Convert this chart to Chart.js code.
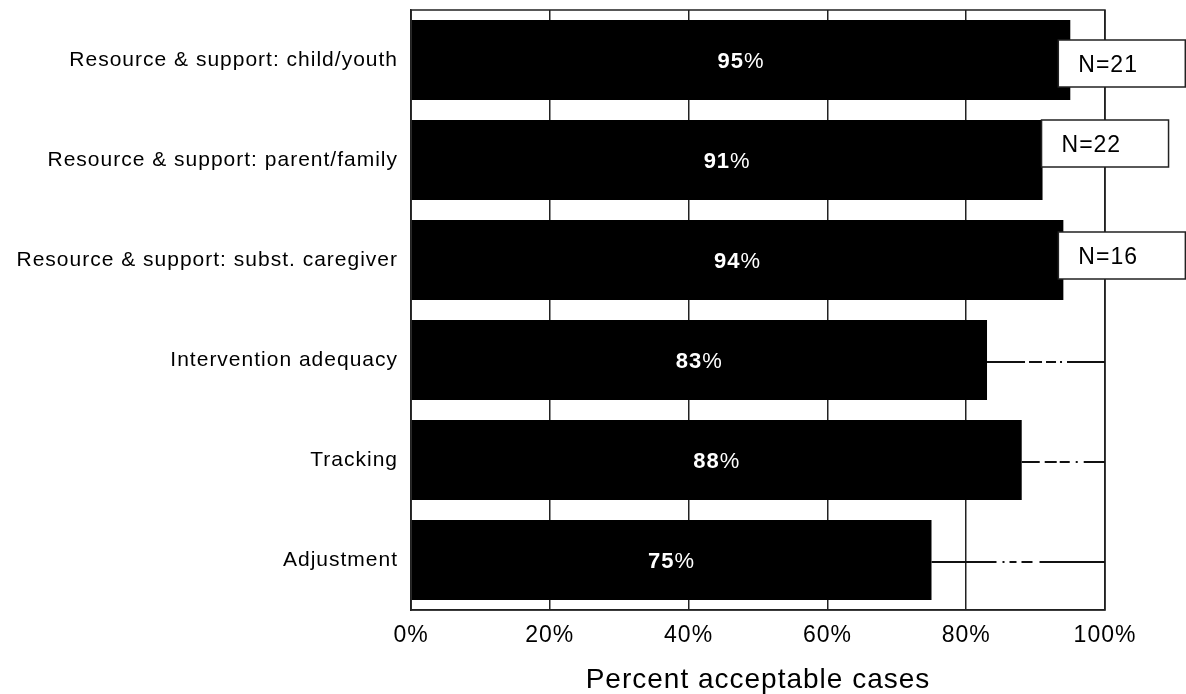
<!DOCTYPE html>
<html>
<head>
<meta charset="utf-8">
<script src="https://cdn.jsdelivr.net/npm/chart.js@4/dist/chart.umd.min.js"></script>
<style>
  html, body { margin: 0; padding: 0; background: #fff; }
  #wrap { width: 1186px; height: 694px; }
</style>
</head>
<body>
<div id="wrap"><canvas id="grafico" width="1186" height="694"></canvas></div>
<script>
// Dados do gráfico
const categorias = [
  'Resource & support: child/youth',
  'Resource & support: parent/family',
  'Resource & support: subst. caregiver',
  'Intervention adequacy',
  'Tracking',
  'Adjustment'
];
const percentuais = [95, 91, 94, 83, 88, 75];
const rotulosN = ['N=21', 'N=22', 'N=16', null, null, null];
const ticksX = [0, 20, 40, 60, 80, 100];

// Estilos dos traços à direita das barras (tracejado ponto-traço)
const tracejados = [
  null,
  null,
  null,
  [38, 4, 13, 4, 10, 4, 2, 5, 200],
  [18, 5, 12, 3, 10, 6, 2, 6, 200],
  [65, 6, 2, 5, 7, 5, 11, 7, 200]
];
// Deslocamento das caixas "N=" em relação ao fim da barra
const caixasOffset = [
  { dx: -12, dy: -20 },
  { dx: -1, dy: -40 },
  { dx: -5, dy: -28 }
];

const FONTE = "'Liberation Sans', Arial, sans-serif";

// Espaçamento entre letras, como na fonte bitmap original
const espacamentoPlugin = {
  id: 'espacamento',
  beforeDraw(chart) {
    chart.ctx.letterSpacing = '1px';
  }
};

// Plugin que desenha a moldura, os traços, os rótulos e as caixas N
const extrasPlugin = {
  id: 'extras',
  afterDatasetsDraw(chart) {
    const ctx = chart.ctx;
    const area = chart.chartArea;
    const xScale = chart.scales.x;
    const meta = chart.getDatasetMeta(0);

    ctx.save();

    // Moldura da área do gráfico
    ctx.strokeStyle = '#222';
    ctx.lineWidth = 1.5;
    ctx.strokeRect(area.left, area.top, area.right - area.left, area.bottom - area.top);

    // Traços do fim da barra até 100%
    meta.data.forEach((bar, i) => {
      if (!tracejados[i]) return;
      ctx.beginPath();
      ctx.setLineDash(tracejados[i]);
      ctx.strokeStyle = '#111';
      ctx.lineWidth = 2;
      ctx.moveTo(bar.x, bar.y + 2);
      ctx.lineTo(xScale.getPixelForValue(100), bar.y + 2);
      ctx.stroke();
    });
    ctx.setLineDash([]);

    // Rótulos de valor dentro das barras
    meta.data.forEach((bar, i) => {
      const numero = String(percentuais[i]);
      ctx.font = 'bold 22px ' + FONTE;
      const wNum = ctx.measureText(numero).width;
      ctx.font = '22px ' + FONTE;
      const wPct = ctx.measureText('%').width;
      const cx = (bar.base + bar.x) / 2;
      const x = cx - (wNum + wPct) / 2;
      ctx.fillStyle = '#fff';
      ctx.textBaseline = 'middle';
      ctx.textAlign = 'left';
      ctx.font = 'bold 22px ' + FONTE;
      ctx.fillText(numero, x, bar.y + 2);
      ctx.font = '22px ' + FONTE;
      ctx.fillText('%', x + wNum, bar.y + 2);
    });

    // Caixas com o número de casos
    meta.data.forEach((bar, i) => {
      if (!rotulosN[i]) return;
      const off = caixasOffset[i];
      const left = bar.x + off.dx;
      const top = bar.y + off.dy;
      ctx.fillStyle = '#fff';
      ctx.fillRect(left, top, 127, 47);
      ctx.strokeStyle = '#222';
      ctx.lineWidth = 1.5;
      ctx.strokeRect(left, top, 127, 47);
      ctx.fillStyle = '#000';
      ctx.font = '23px ' + FONTE;
      ctx.textAlign = 'left';
      ctx.textBaseline = 'middle';
      ctx.fillText(rotulosN[i], left + 20, top + 26);
    });

    ctx.restore();
  }
};

const ctx = document.getElementById('grafico').getContext('2d');
const grafico = new Chart(ctx, {
  type: 'bar',
  data: {
    labels: categorias,
    datasets: [{
      label: 'Percent acceptable cases',
      data: percentuais,
      backgroundColor: '#000',
      borderWidth: 0,
      barPercentage: 0.8,
      categoryPercentage: 1
    }]
  },
  options: {
    indexAxis: 'y',
    responsive: false,
    animation: false,
    layout: {
      padding: { top: 10, right: 81, left: 0, bottom: 0 }
    },
    plugins: {
      legend: { display: false },
      tooltip: { enabled: false }
    },
    scales: {
      x: {
        min: 0,
        max: 100,
        afterBuildTicks: (scale) => {
          scale.ticks = ticksX.map(v => ({ value: v }));
        },
        afterFit: (scale) => { scale.height = 84; },
        ticks: {
          callback: (v) => v + '%',
          color: '#000',
          font: { family: FONTE, size: 23 },
          padding: 12,
          maxRotation: 0
        },
        grid: {
          color: '#222',
          lineWidth: 1.5,
          drawTicks: false
        },
        border: { color: '#222', width: 1.5 },
        title: {
          display: true,
          text: 'Percent acceptable cases',
          color: '#000',
          font: { family: FONTE, size: 28, lineHeight: 1 },
          padding: { top: 0, bottom: 0 }
        }
      },
      y: {
        afterFit: (scale) => {
          scale.width = 411;
          scale.paddingTop = 0;
          scale.paddingBottom = 0;
        },
        ticks: {
          color: '#000',
          font: { family: FONTE, size: 21 },
          padding: 13
        },
        grid: { display: false, drawTicks: false },
        border: { color: '#222', width: 1.5 }
      }
    }
  },
  plugins: [espacamentoPlugin, extrasPlugin]
});
</script>
</body>
</html>
